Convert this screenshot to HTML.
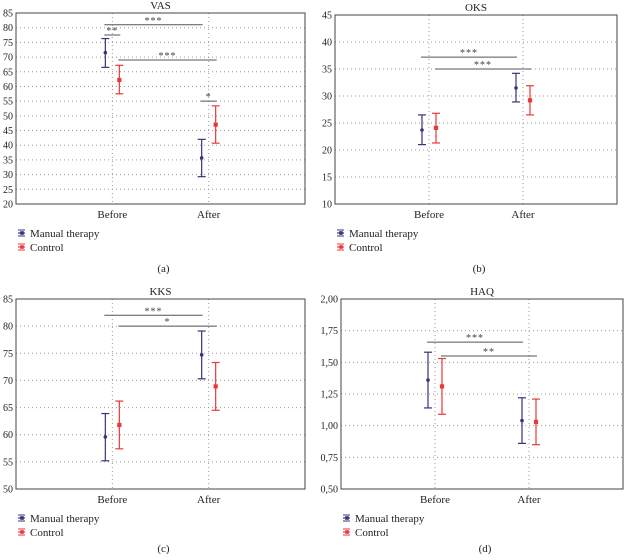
<!DOCTYPE html>
<html><head><meta charset="utf-8">
<style>
body{margin:0;background:#fff;}
svg{display:block;font-family:"Liberation Serif",serif;}
</style></head>
<body>
<svg id="chart" width="624" height="560" viewBox="0 0 624 560" xmlns="http://www.w3.org/2000/svg"></svg>
<script>
const categories = ["Before","After"];
const seriesNames = ["Manual therapy","Control"];
// VAS
const vasMean = [[71.5,35.7],[62.2,47.0]];
const vasLow  = [[66.5,29.3],[57.5,40.7]];
const vasHigh = [[76.3,42.0],[67.2,53.4]];
const vasTicks = [20,25,30,35,40,45,50,55,60,65,70,75,80,85];
// OKS
const oksMean = [[23.7,31.5],[24.1,29.2]];
const oksLow  = [[21.0,28.9],[21.3,26.5]];
const oksHigh = [[26.5,34.2],[26.8,31.9]];
const oksTicks = [10,15,20,25,30,35,40,45];
// KKS
const kksMean = [[59.6,74.7],[61.8,68.9]];
const kksLow  = [[55.2,70.3],[57.4,64.5]];
const kksHigh = [[63.9,79.1],[66.2,73.3]];
const kksTicks = [50,55,60,65,70,75,80,85];
// HAQ
const haqMean = [[1.36,1.04],[1.31,1.03]];
const haqLow  = [[1.14,0.86],[1.09,0.85]];
const haqHigh = [[1.58,1.22],[1.53,1.21]];
const haqTicks = [0.5,0.75,1.0,1.25,1.5,1.75,2.0];
// significance brackets: [y, fromGroup, fromSeries, toGroup, toSeries, label]
const vasSig = [[81,0,0,1,0,"***"],[77.5,0,0,0,1,"**"],[69,0,1,1,1,"***"],[55,1,0,1,1,"*"]];
const oksSig = [[37.2,0,0,1,0,"***"],[35,0,1,1,1,"***"]];
const kksSig = [[82,0,0,1,0,"***"],[80,0,1,1,1,"*"]];
const haqSig = [[1.66,0,0,1,0,"***"],[1.55,0,1,1,1,"**"]];

const colors = ["#34357a","#e8393b"];
const svg = document.getElementById('chart');
const NS = "http://www.w3.org/2000/svg";
function mk(tag, attrs, parent){
  const e = document.createElementNS(NS, tag);
  for (const k in attrs) e.setAttribute(k, attrs[k]);
  (parent||svg).appendChild(e); return e;
}
function panel(cfg){
  const g = mk('g',{});
  
  
  const {x0,x1,y0,y1,min,max} = cfg;
  const ys = v => y1 - (v-min)/(max-min)*(y1-y0);
  const xs = (gi,si) => x0 + (x1-x0)*(gi+1)/3 + (si===0?-7:7);
  const t = mk('text',{x:(x0+x1)/2, y:y0-4, 'text-anchor':'middle','font-size':11,fill:'#222'}, g);
  t.textContent = cfg.title;
  
  
  cfg.ticks.forEach(v=>{
    const y = ys(v);
    const l = mk('line',{x1:x0,x2:x1,y1:y,y2:y,stroke:'#999','stroke-dasharray':'1 3','stroke-width':1}, g);
    
    
    const tl = mk('text',{x:x0-3,y:y+3.5,'text-anchor':'end','font-size':10,fill:'#222'}, g);
    tl.textContent = cfg.fmt(v);
    
    
  });
  categories.forEach((c,gi)=>{
    const x = x0 + (x1-x0)*(gi+1)/3;
    const l = mk('line',{x1:x,x2:x,y1:y0,y2:y1,stroke:'#999','stroke-dasharray':'1 3'}, g);
    
    
    const tl = mk('text',{x:x,y:y1+14,'text-anchor':'middle','font-size':11,fill:'#222'}, g);
    tl.textContent = c;
    
    
  });
  const box = mk('rect',{x:x0,y:y0,width:x1-x0,height:y1-y0,fill:'none',stroke:'#444','stroke-width':1}, g);
  
  
  for (let si=0; si<2; si++) for (let gi=0; gi<2; gi++){
    const x = xs(gi,si), c = colors[si];
    const eb = mk('g',{stroke:c,'stroke-width':1.2,fill:'none'}, g);
    
    
    const yl = ys(cfg.low[si][gi]), yh = ys(cfg.high[si][gi]), ym = ys(cfg.mean[si][gi]);
    mk('line',{x1:x,x2:x,y1:yl,y2:yh}, eb);
    mk('line',{x1:x-4,x2:x+4,y1:yl,y2:yl}, eb);
    mk('line',{x1:x-4,x2:x+4,y1:yh,y2:yh}, eb);
    const p = si===0 ? mk('circle',{cx:x,cy:ym,r:1.8,fill:c}, g)
                     : mk('rect',{x:x-1.8,y:ym-1.8,width:3.6,height:3.6,fill:c,stroke:c,'stroke-width':0.6}, g);
    
    
  }
  cfg.sig.forEach(s=>{
    const y = ys(s[0]);
    const xa = xs(s[1],s[2]) - 1, xb = xs(s[3],s[4]) + 1;
    const l = mk('line',{x1:xa,x2:xb,y1:y,y2:y,stroke:'#555','stroke-width':1}, g);
    
    
    const tl = mk('text',{x:(xa+xb)/2,y:y-1,'text-anchor':'middle','font-size':10,fill:'#444','letter-spacing':'1'}, g);
    tl.textContent = s[5];
    
    
  });
  seriesNames.forEach((n,si)=>{
    const y = cfg.legY + si*14, c = colors[si], lx = x0+2;
    const lg = mk('g',{}, g);
    
    
    mk('line',{x1:lx,x2:lx+7,y1:y-2,y2:y-2,stroke:c,'stroke-width':1.2}, lg);
    mk('line',{x1:lx,x2:lx+7,y1:y-5,y2:y-5,stroke:c,'stroke-width':1}, lg);
    mk('line',{x1:lx,x2:lx+7,y1:y+1,y2:y+1,stroke:c,'stroke-width':1}, lg);
    mk('rect',{x:lx+2.2,y:y-3.8,width:3.6,height:3.6,fill:c}, lg);
    const tl = mk('text',{x:lx+12,y:y+2,'font-size':11,fill:'#222'}, lg);
    tl.textContent = n;
  });
  const cap = mk('text',{x:(x0+x1)/2+3,y:cfg.capY,'text-anchor':'middle','font-size':11,fill:'#222'}, g);
  cap.textContent = cfg.cap;
  
  
}
const fi = v => String(v);
const fc = v => v.toFixed(2).replace('.',',');
panel({name:'vas',title:'VAS',x0:16,x1:305,y0:13,y1:204,min:20,max:85,ticks:vasTicks,fmt:fi,mean:vasMean,low:vasLow,high:vasHigh,sig:vasSig,legY:235,capY:272,cap:'(a)'});
panel({name:'oks',title:'OKS',x0:335,x1:617,y0:15,y1:204,min:10,max:45,ticks:oksTicks,fmt:fi,mean:oksMean,low:oksLow,high:oksHigh,sig:oksSig,legY:235,capY:272,cap:'(b)'});
panel({name:'kks',title:'KKS',x0:16,x1:305,y0:299,y1:489,min:50,max:85,ticks:kksTicks,fmt:fi,mean:kksMean,low:kksLow,high:kksHigh,sig:kksSig,legY:520,capY:552,cap:'(c)'});
panel({name:'haq',title:'HAQ',x0:341,x1:623,y0:299,y1:489,min:0.5,max:2.0,ticks:haqTicks,fmt:fc,mean:haqMean,low:haqLow,high:haqHigh,sig:haqSig,legY:520,capY:552,cap:'(d)'});
</script>
</body></html>
